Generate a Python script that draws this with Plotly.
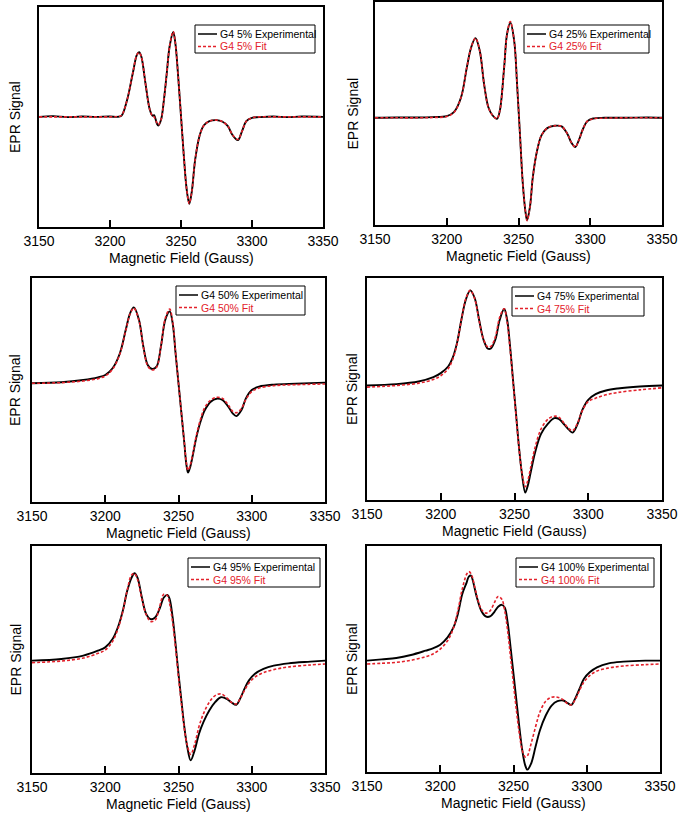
import plotly.graph_objects as go

W, H = 684, 821
FONT = "Liberation Sans, Arial, sans-serif"
RED = "#e3212b"

# --- data (field in Gauss, signal in arbitrary units) ---
field_5 = [3150, 3160, 3170, 3180, 3190, 3200, 3205, 3208, 3212, 3216, 3219, 3220.5, 3222, 3225,
           3228, 3230, 3231, 3233, 3234, 3236, 3238, 3240, 3242, 3244.5, 3246, 3248, 3250, 3252,
           3254, 3255.8, 3257.5, 3260, 3263, 3266, 3270, 3275, 3279, 3283, 3286, 3290, 3293, 3296,
           3300, 3305, 3315, 3325, 3335, 3350]
exp_5 = [0, 0.02, -0.01, 0.01, 0, 0.01, 0.0, 0.03, 0.5, 1.3, 1.87, 1.94, 1.82, 1.0,
         0.22, 0.03, 0.05, -0.2, -0.26, -0.08, 0.52, 1.32, 2.12, 2.55, 2.22, 1.22, 0.02, -1.18,
         -2.18, -2.61, -2.28, -1.28, -0.58, -0.26, -0.13, -0.10, -0.14, -0.28, -0.53, -0.70, -0.43, -0.13,
         -0.03, -0.01, 0.01, -0.01, 0.01, 0]
fit_5 = [0, 0, 0, 0, 0, 0, 0.01, 0.04, 0.5, 1.3, 1.87, 1.93, 1.82, 1.0,
         0.22, 0.02, 0.0, -0.18, -0.24, -0.08, 0.52, 1.32, 2.12, 2.56, 2.22, 1.22, 0.02, -1.18,
         -2.18, -2.6, -2.28, -1.28, -0.58, -0.27, -0.13, -0.10, -0.14, -0.28, -0.52, -0.68, -0.43, -0.13,
         -0.03, 0, 0, 0, 0, 0]

field_25 = [3150, 3165, 3180, 3190, 3200, 3205, 3210, 3214, 3217, 3220, 3223, 3226, 3229, 3232,
            3235, 3237, 3240, 3242, 3244.3, 3247, 3249, 3251, 3253, 3255, 3256, 3258, 3260, 3263,
            3266, 3270, 3275, 3280, 3284, 3287, 3289.5, 3292, 3295, 3298, 3302, 3310, 3325, 3340, 3350]
exp_25 = [0, 0.01, 0.01, 0.02, 0.05, 0.17, 0.62, 1.52, 2.12, 2.40, 2.02, 1.02, 0.32, 0.07,
          -0.03, 0.22, 1.52, 2.52, 2.87, 2.32, 1.02, -0.48, -1.98, -2.88, -3.08, -2.68, -1.78, -0.98,
          -0.53, -0.31, -0.24, -0.26, -0.48, -0.76, -0.88, -0.68, -0.33, -0.10, -0.02, 0.0, 0.0, 0.01, 0]
fit_25 = [0, 0, 0, 0.01, 0.04, 0.16, 0.62, 1.52, 2.12, 2.40, 2.02, 1.02, 0.32, 0.07,
          -0.02, 0.22, 1.52, 2.52, 2.90, 2.32, 1.02, -0.48, -1.98, -2.88, -3.10, -2.68, -1.78, -0.98,
          -0.53, -0.31, -0.24, -0.26, -0.48, -0.76, -0.88, -0.68, -0.33, -0.10, -0.03, -0.01, 0, 0, 0]

field_50 = [3150, 3170, 3185, 3195, 3200, 3205, 3210, 3214, 3217, 3219.5, 3223, 3226, 3229, 3232,
            3235, 3238, 3241, 3244, 3246, 3248, 3250, 3252, 3254, 3255.3, 3256.5, 3258, 3260, 3262,
            3265, 3268, 3272, 3276, 3280, 3284, 3287, 3289.5, 3293, 3296, 3300, 3305, 3315, 3330, 3350]
exp_50 = [0, 0.03, 0.10, 0.18, 0.25, 0.45, 0.90, 1.60, 2.10, 2.27, 1.90, 1.10, 0.55, 0.43,
          0.50, 1.10, 1.90, 2.15, 1.80, 0.90, 0.0, -0.90, -1.80, -2.40, -2.67, -2.50, -2.10, -1.65,
          -1.15, -0.80, -0.55, -0.46, -0.50, -0.70, -0.90, -0.98, -0.80, -0.45, -0.20, -0.10, -0.04, -0.01, 0.02]
fit_50 = [0, 0.02, 0.07, 0.14, 0.22, 0.42, 0.88, 1.58, 2.08, 2.25, 1.88, 1.08, 0.52, 0.40,
          0.48, 1.10, 1.95, 2.22, 1.85, 0.92, 0.0, -0.90, -1.78, -2.35, -2.60, -2.45, -2.05, -1.60,
          -1.08, -0.72, -0.50, -0.42, -0.45, -0.65, -0.84, -0.88, -0.75, -0.48, -0.25, -0.14, -0.07, -0.04, -0.02]

field_75 = [3150, 3170, 3185, 3195, 3200, 3205, 3208, 3211, 3214, 3217, 3220, 3223, 3226, 3229,
            3232, 3234, 3237, 3240, 3243, 3245, 3247, 3249, 3251, 3253, 3255, 3257.3, 3259, 3261,
            3264, 3268, 3273, 3277, 3280, 3284, 3287, 3289.5, 3293, 3296, 3300, 3305, 3312, 3320, 3335, 3350]
exp_75 = [0, 0.04, 0.12, 0.25, 0.37, 0.57, 0.82, 1.27, 1.97, 2.57, 2.85, 2.62, 1.97, 1.37,
          1.10, 1.11, 1.37, 1.97, 2.29, 1.97, 1.17, 0.17, -0.83, -1.83, -2.63, -3.21, -3.0, -2.6,
          -2.0, -1.45, -1.13, -0.98, -1.0, -1.18, -1.33, -1.41, -1.13, -0.73, -0.43, -0.26, -0.15, -0.09, -0.03, 0.0]
fit_75 = [-0.05, 0.0, 0.07, 0.18, 0.29, 0.50, 0.77, 1.24, 1.97, 2.60, 2.85, 2.60, 1.95, 1.38,
          1.15, 1.17, 1.45, 2.05, 2.30, 1.90, 1.10, 0.12, -0.88, -1.85, -2.6, -3.03, -2.85, -2.45,
          -1.85, -1.30, -1.0, -0.92, -0.95, -1.15, -1.30, -1.35, -1.10, -0.75, -0.48, -0.38, -0.28, -0.21, -0.13, -0.07]

field_95 = [3150, 3170, 3185, 3195, 3200, 3205, 3209, 3212, 3215, 3218, 3220, 3222, 3225, 3228,
            3231, 3234, 3237, 3240, 3242.5, 3244, 3246, 3248, 3250, 3252, 3254, 3256, 3258.3, 3261,
            3264, 3267, 3271, 3275, 3279, 3283, 3286, 3289.5, 3292, 3295, 3298, 3302, 3308, 3315, 3325, 3340, 3350]
exp_95 = [0, 0.05, 0.15, 0.30, 0.40, 0.65, 1.05, 1.50, 2.10, 2.50, 2.63, 2.50, 1.90, 1.40,
          1.25, 1.30, 1.55, 1.90, 1.98, 1.85, 1.30, 0.50, -0.40, -1.20, -2.00, -2.60, -3.00, -2.70,
          -2.20, -1.85, -1.50, -1.25, -1.10, -1.15, -1.25, -1.33, -1.15, -0.85, -0.60, -0.40, -0.25, -0.15, -0.08, -0.03, 0.0]
fit_95 = [-0.06, -0.01, 0.08, 0.22, 0.32, 0.58, 1.0, 1.48, 2.12, 2.58, 2.62, 2.45, 1.85, 1.38,
          1.18, 1.22, 1.60, 2.0, 1.95, 1.70, 1.15, 0.38, -0.50, -1.30, -2.05, -2.55, -2.82, -2.52,
          -1.98, -1.60, -1.25, -1.05, -1.0, -1.12, -1.25, -1.30, -1.15, -0.90, -0.68, -0.50, -0.36, -0.27, -0.19, -0.13, -0.10]

field_100 = [3150, 3160, 3170, 3180, 3190, 3195, 3200, 3205, 3209, 3212, 3215, 3218, 3219.5, 3221,
             3222, 3225, 3228, 3231, 3234, 3237, 3239.5, 3242, 3244, 3246, 3248, 3250, 3252, 3254,
             3256, 3258, 3259.5, 3262, 3265, 3268, 3272, 3276, 3280, 3284, 3287, 3289.5, 3292, 3295,
             3298, 3302, 3307, 3315, 3325, 3340, 3350]
exp_100 = [0, 0.04, 0.08, 0.17, 0.30, 0.37, 0.48, 0.70, 1.00, 1.40, 2.00, 2.35, 2.53, 2.56,
           2.45, 1.90, 1.50, 1.33, 1.33, 1.47, 1.62, 1.68, 1.60, 1.15, 0.40, -0.40, -1.20, -2.00,
           -2.70, -3.15, -3.28, -3.10, -2.60, -2.10, -1.65, -1.35, -1.22, -1.20, -1.28, -1.33, -1.15, -0.85,
           -0.55, -0.35, -0.20, -0.08, -0.03, 0.0, 0.0]
fit_100 = [-0.10, -0.08, -0.05, 0.01, 0.12, 0.20, 0.35, 0.60, 0.98, 1.50, 2.15, 2.60, 2.68, 2.62,
           2.50, 1.95, 1.55, 1.43, 1.50, 1.75, 1.93, 1.85, 1.50, 0.90, 0.10, -0.70, -1.50, -2.20,
           -2.70, -2.90, -2.86, -2.50, -2.00, -1.55, -1.22, -1.10, -1.10, -1.18, -1.30, -1.33, -1.18, -0.90,
           -0.65, -0.45, -0.31, -0.22, -0.16, -0.12, -0.10]

labels = ["5%", "25%", "50%", "75%", "95%", "100%"]
fields = [field_5, field_25, field_50, field_75, field_95, field_100]
exps = [exp_5, exp_25, exp_50, exp_75, exp_95, exp_100]
fits = [fit_5, fit_25, fit_50, fit_75, fit_95, fit_100]
tick_vals = [3150, 3200, 3250, 3300, 3350]

# --- layout in pixels: frame (left, right, top, bottom), y range, legend box ---
frames = [(39, 323, 7, 227), (375, 662, 2, 225),
          (32, 325, 278, 502), (367, 662, 278, 500),
          (32, 325, 546, 773), (367, 660, 546, 772)]
y_ranges = [(-3.31, 3.30), (-3.23, 3.49), (-3.55, 3.15),
            (-3.43, 3.22), (-3.38, 3.45), (-3.35, 3.45)]
legend_boxes = [(195, 315, 25, 53), (524, 649, 25, 53),
                (176, 305, 286, 315), (512, 644, 287, 316),
                (188, 320, 558, 587), (516, 654, 558, 587)]
ytitle_x = [15, 352, 15, 352, 15, 352]


def px(x):
    return x / W


def py(y):
    return 1 - y / H


fig = go.Figure()
shapes = []
annotations = []

for i in range(6):
    n = "" if i == 0 else str(i + 1)
    l, r, t, b = frames[i]
    fig.add_trace(go.Scatter(
        x=fields[i], y=exps[i], mode="lines", line_shape="spline",
        line=dict(color="black", width=1.9), xaxis="x" + n, yaxis="y" + n,
        name=f"G4 {labels[i]} Experimental", showlegend=False))
    fig.add_trace(go.Scatter(
        x=fields[i], y=fits[i], mode="lines", line_shape="spline",
        line=dict(color=RED, width=1.6, dash="3px,2px"), xaxis="x" + n, yaxis="y" + n,
        name=f"G4 {labels[i]} Fit", showlegend=False))

    fig.update_layout(**{
        "xaxis" + n: dict(
            domain=[px(l), px(r)], anchor="y" + n, range=[3150, 3350],
            tickvals=tick_vals, ticks="inside", ticklen=7, tickwidth=2, tickcolor="black",
            showline=True, mirror=True, linecolor="black", linewidth=2,
            showgrid=False, zeroline=False, automargin=False,
            tickfont=dict(family=FONT, size=14, color="black"),
        ),
        "yaxis" + n: dict(
            domain=[py(b), py(t)], anchor="x" + n, range=list(y_ranges[i]),
            showticklabels=False, ticks="",
            showline=True, mirror=True, linecolor="black", linewidth=2,
            showgrid=False, zeroline=False, automargin=False,
        ),
    })

    # axis titles
    annotations.append(dict(
        text="Magnetic Field (Gauss)", xref="paper", yref="paper",
        x=px((l + r) / 2), y=py(b + 31), xanchor="center", yanchor="middle",
        showarrow=False, font=dict(family=FONT, size=14, color="black")))
    annotations.append(dict(
        text="EPR Signal", xref="paper", yref="paper", textangle=-90,
        x=px(ytitle_x[i]), y=py((t + b) / 2), xanchor="center", yanchor="middle",
        showarrow=False, font=dict(family=FONT, size=14, color="black")))

    # legend box
    bl, br, bt, bb = legend_boxes[i]
    shapes.append(dict(type="rect", xref="paper", yref="paper",
                       x0=px(bl), x1=px(br), y0=py(bb), y1=py(bt),
                       line=dict(color="black", width=1), fillcolor="white", layer="above"))
    for row, (txt, col, dash) in enumerate([
            (f"G4 {labels[i]} Experimental", "black", "solid"),
            (f"G4 {labels[i]} Fit", RED, "3px,2px")]):
        yy = bt + 9 + row * 12.5
        shapes.append(dict(type="line", xref="paper", yref="paper",
                           x0=px(bl + 3), x1=px(bl + 22), y0=py(yy), y1=py(yy),
                           line=dict(color=col, width=1.5, dash=dash), layer="above"))
        annotations.append(dict(
            text=txt, xref="paper", yref="paper", x=px(bl + 23), y=py(yy),
            xanchor="left", yanchor="middle", showarrow=False,
            font=dict(family=FONT, size=10.5, color=col)))

fig.update_layout(
    width=W, height=H,
    margin=dict(l=0, r=0, t=0, b=0),
    paper_bgcolor="white", plot_bgcolor="white",
    showlegend=False,
    shapes=shapes, annotations=annotations,
)

# page body has a default 8px margin; drop it so the figure fills the window
fig.write_html("out.html", config={"displayModeBar": False},
               post_script="document.body.style.margin = '0';")
